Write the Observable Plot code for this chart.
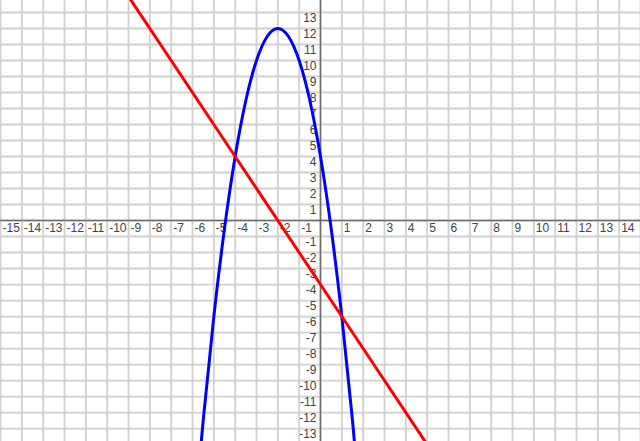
<!DOCTYPE html>
<html>
<head>
<meta charset="utf-8">
<script src="https://cdn.jsdelivr.net/npm/d3@7"></script>
<script src="https://cdn.jsdelivr.net/npm/@observablehq/plot@0.6"></script>
<style>
  html, body { margin: 0; padding: 0; background: #fff; }
  svg { display: block; }
</style>
</head>
<body>
<div id="chart"></div>
<script>
// Tick labels / grid values
const xTicks = [-15,-14,-13,-12,-11,-10,-9,-8,-7,-6,-5,-4,-3,-2,-1,1,2,3,4,5,6,7,8,9,10,11,12,13,14];
const yTicks = [-13,-12,-11,-10,-9,-8,-7,-6,-5,-4,-3,-2,-1,1,2,3,4,5,6,7,8,9,10,11,12,13];
const xGrid = d3.range(-15, 16);
const yGrid = d3.range(-13, 14);

// Blue parabola: points
const blueX = [-6, -5.5, -5, -4.5, -4, -3.5, -3, -2.5, -2, -1.5, -1, -0.5, 0, 0.5, 1, 1.5, 2];
const blueY = [-20, -12.5, -6, -0.5, 4, 7.5, 10, 11.5, 12, 11.5, 10, 7.5, 4, -0.5, -6, -12.5, -20];

// Red straight line: points
const redX = [-10, -4, 1, 6];
const redY = [16, 4, -6, -16];

const blue = blueX.map((x, i) => ({x, y: blueY[i]}));
const red = redX.map((x, i) => ({x, y: redY[i]}));

const plot = Plot.plot({
  width: 640,
  height: 441,
  margin: 0,
  style: {background: "#fff", fontFamily: "'Liberation Sans', Arial, sans-serif"},
  x: {domain: [-15, 15], axis: null},
  y: {domain: [-13.81, 13.75], axis: null},
  marks: [
    Plot.ruleX(xGrid, {x: d => d, stroke: "#d0d0d0", strokeWidth: 1.8}),
    Plot.ruleY(yGrid, {y: d => d, stroke: "#d0d0d0", strokeWidth: 1.8}),
    Plot.ruleX([0], {stroke: "#6e6e6e", strokeWidth: 1.6}),
    Plot.ruleY([0], {stroke: "#6e6e6e", strokeWidth: 1.6}),
    Plot.text(xTicks, {x: d => d, y: 0, text: d => String(d), textAnchor: "start", lineAnchor: "top", dx: 2, dy: 3, fontSize: 12, fill: "#444"}),
    Plot.text(yTicks, {x: 0, y: d => d, text: d => String(d), textAnchor: "end", lineAnchor: "top", dx: -4, dy: 1, fontSize: 12, fill: "#444"}),
    Plot.line(blue, {x: "x", y: "y", stroke: "#0000ff", strokeWidth: 3, curve: "natural", clip: true}),
    Plot.line(red, {x: "x", y: "y", stroke: "#ff0000", strokeWidth: 3, clip: true})
  ]
});
document.getElementById("chart").appendChild(plot);
</script>
</body>
</html>
